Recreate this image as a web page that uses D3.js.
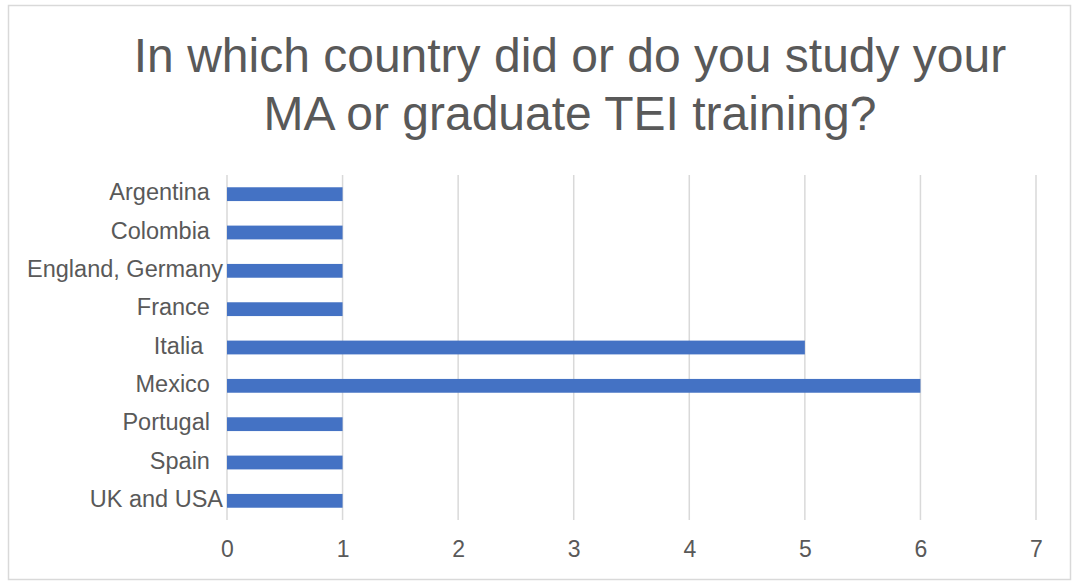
<!DOCTYPE html>
<html>
<head>
<meta charset="utf-8">
<script src="https://cdn.jsdelivr.net/npm/d3@7"></script>
<style>
  body { margin: 0; background: #fff; }
  text { font-family: "Liberation Sans", Arial, sans-serif; }
</style>
</head>
<body>
<script>
var width = 1074, height = 582;

// data (labels keep the trailing spaces the survey answers had)
var countries = ['Argentina  ', 'Colombia  ', 'England, Germany', 'France  ', 'Italia   ',
                 'Mexico  ', 'Portugal  ', 'Spain  ', 'UK and USA'];
var counts = [1, 1, 1, 1, 5, 6, 1, 1, 1];
var x_ticks = [0, 1, 2, 3, 4, 5, 6, 7];
var title_lines = ['In which country did or do you study your', 'MA or graduate TEI training?'];

var data = countries.map((c, i) => ({country: c, value: counts[i]}));

var svg = d3.select('body').append('svg').attr('width', width).attr('height', height);

// outer frame
svg.append('rect')
  .attr('x', 8.5).attr('y', 5.5)
  .attr('width', 1062).attr('height', 574)
  .attr('fill', '#fff')
  .attr('stroke', '#d9d9d9')
  .attr('stroke-width', 1.5);

// title
svg.append('g').attr('class', 'title')
  .selectAll('text').data(title_lines)
  .enter().append('text')
  .attr('x', 570)
  .attr('y', (d, i) => 72 + i * 58)
  .attr('text-anchor', 'middle')
  .attr('font-size', 48)
  .attr('fill', '#595959')
  .text(d => d);

var xScale = d3.scaleLinear().domain([0, 7]).range([227, 1036]);
var yScale = d3.scaleBand().domain(countries).range([175, 520]).paddingInner(0.64).paddingOuter(0.32);

// gridlines
svg.append('g').attr('class', 'grid')
  .selectAll('line').data(x_ticks)
  .enter().append('line')
  .attr('x1', d => xScale(d)).attr('x2', d => xScale(d))
  .attr('y1', 175).attr('y2', 520)
  .attr('stroke', '#d9d9d9')
  .attr('stroke-width', 1.5);

// bars
svg.append('g').attr('class', 'bars')
  .selectAll('rect').data(data)
  .enter().append('rect')
  .attr('x', xScale(0))
  .attr('y', d => yScale(d.country))
  .attr('width', d => xScale(d.value) - xScale(0))
  .attr('height', yScale.bandwidth())
  .attr('fill', '#4472c4');

// x axis
var xAxis = svg.append('g').attr('class', 'x_axis')
  .attr('transform', 'translate(0,520)')
  .call(d3.axisBottom(xScale).tickValues(x_ticks).tickSize(0).tickPadding(21).tickFormat(d3.format('d')));
xAxis.select('.domain').remove();
xAxis.selectAll('text').attr('font-size', 23).attr('fill', '#595959')
  .style('font-family', '"Liberation Sans", Arial, sans-serif');

// y axis
var yAxis = svg.append('g').attr('class', 'y_axis')
  .attr('transform', 'translate(' + (xScale(0) - 4) + ',0)')
  .call(d3.axisLeft(yScale).tickSize(0).tickPadding(0));
yAxis.select('.domain').remove();
yAxis.selectAll('text').attr('font-size', 23.5).attr('fill', '#595959')
  .attr('dy', '0.26em')
  .style('white-space', 'pre')
  .style('font-family', '"Liberation Sans", Arial, sans-serif');
</script>
</body>
</html>
